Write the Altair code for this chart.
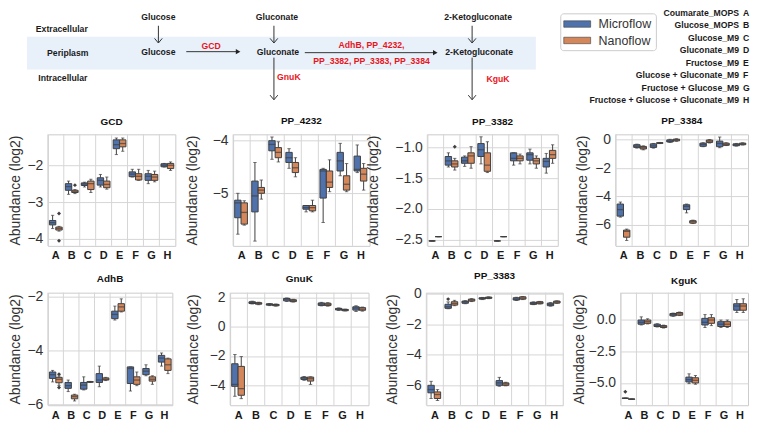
import altair as alt
import pandas as pd

# ---------------- data ----------------
CONDITIONS = ["A", "B", "C", "D", "E", "F", "G", "H"]
CONDITION_NAMES = [
    "Coumarate_MOPS", "Glucose_MOPS", "Glucose_M9", "Gluconate_M9", "Fructose_M9",
    "Glucose + Gluconate_M9", "Fructose + Glucose_M9", "Fructose + Glucose + Gluconate_M9",
]
GROUPS = ["Microflow", "Nanoflow"]

# box statistics per condition: [whisker low, q1, median, q3, whisker high]
GCD_MICRO = [[-3.72, -3.62, -3.56, -3.50, -3.36], [-2.79, -2.68, -2.58, -2.50, -2.43],
             [-2.59, -2.55, -2.51, -2.48, -2.46], [-2.59, -2.54, -2.41, -2.34, -2.25],
             [-1.71, -1.55, -1.44, -1.31, -1.26], [-2.32, -2.31, -2.24, -2.18, -2.11],
             [-2.50, -2.41, -2.30, -2.23, -2.14], [-2.05, -2.04, -2.00, -1.96, -1.95]]
GCD_NANO = [[-3.79, -3.76, -3.72, -3.68, -3.66], [-2.77, -2.74, -2.72, -2.68, -2.66],
            [-2.74, -2.66, -2.50, -2.43, -2.38], [-2.65, -2.61, -2.52, -2.43, -2.32],
            [-1.62, -1.50, -1.41, -1.31, -1.26], [-2.41, -2.40, -2.30, -2.23, -2.11],
            [-2.45, -2.41, -2.32, -2.25, -2.16], [-2.14, -2.09, -2.00, -1.95, -1.91]]
PP4232_MICRO = [[-5.77, -5.46, -5.18, -5.13, -5.00], [-5.90, -5.35, -5.05, -4.77, -4.42],
                [-4.36, -4.20, -4.08, -4.01, -3.94], [-4.53, -4.42, -4.33, -4.23, -4.16],
                [-5.35, -5.30, -5.27, -5.23, -5.23], [-5.55, -5.09, -4.58, -4.55, -4.53],
                [-4.67, -4.58, -4.39, -4.23, -4.06], [-4.61, -4.58, -4.55, -4.30, -4.09]]
PP4232_NANO = [[-5.60, -5.58, -5.36, -5.18, -5.14], [-5.11, -5.00, -4.94, -4.89, -4.75],
               [-4.41, -4.33, -4.23, -4.14, -4.03], [-4.69, -4.61, -4.52, -4.42, -4.33],
               [-5.35, -5.33, -5.27, -5.23, -5.13], [-4.97, -4.89, -4.79, -4.58, -4.37],
               [-4.97, -4.94, -4.83, -4.67, -4.44], [-4.94, -4.77, -4.64, -4.53, -4.44]]
PP3382_MICRO = [[-2.52, -2.52, -2.52, -2.52, -2.52], [-1.32, -1.29, -1.22, -1.15, -1.09],
                [-1.31, -1.26, -1.22, -1.16, -1.14], [-1.27, -1.15, -1.04, -0.94, -0.83],
                [-2.52, -2.52, -2.52, -2.52, -2.52], [-1.29, -1.22, -1.18, -1.09, -1.09],
                [-1.27, -1.21, -1.12, -1.09, -1.03], [-1.42, -1.32, -1.23, -1.18, -1.10]]
PP3382_NANO = [[-2.45, -2.45, -2.45, -2.45, -2.45], [-1.37, -1.32, -1.27, -1.22, -1.18],
               [-1.34, -1.26, -1.14, -1.09, -0.99], [-1.41, -1.39, -1.29, -1.09, -0.91],
               [-2.45, -2.45, -2.45, -2.45, -2.45], [-1.27, -1.22, -1.18, -1.14, -1.11],
               [-1.34, -1.27, -1.22, -1.18, -1.14], [-1.26, -1.18, -1.12, -1.05, -0.96]]
PP3384_MICRO = [[-5.45, -5.38, -4.92, -4.53, -4.39], [-0.60, -0.55, -0.46, -0.36, -0.32],
                [-0.60, -0.55, -0.44, -0.30, -0.27], [-0.20, -0.17, -0.11, -0.02, 0.02],
                [-5.15, -4.92, -4.69, -4.58, -4.53], [-0.50, -0.47, -0.34, -0.25, -0.22],
                [-0.57, -0.50, -0.27, -0.11, 0.18], [-0.46, -0.43, -0.37, -0.30, -0.27]]
PP3384_NANO = [[-7.09, -6.86, -6.45, -6.36, -6.29], [-0.72, -0.66, -0.57, -0.48, -0.44],
               [-0.28, -0.26, -0.24, -0.22, -0.20], [-0.12, -0.09, -0.02, 0.03, 0.06],
               [-5.90, -5.87, -5.77, -5.70, -5.66], [-0.24, -0.20, -0.11, -0.03, 0.00],
               [-0.42, -0.40, -0.34, -0.25, -0.22], [-0.38, -0.36, -0.30, -0.25, -0.23]]
ADHB_MICRO = [[-5.17, -5.04, -4.90, -4.80, -4.74], [-5.53, -5.41, -5.31, -5.19, -5.10],
              [-5.47, -5.44, -5.29, -5.19, -4.98], [-5.35, -5.19, -5.10, -4.86, -4.58],
              [-2.86, -2.81, -2.65, -2.53, -2.34], [-5.51, -5.23, -4.67, -4.61, -4.61],
              [-4.94, -4.90, -4.77, -4.67, -4.53], [-4.58, -4.43, -4.28, -4.18, -4.09]]
ADHB_NANO = [[-5.30, -5.20, -5.07, -5.00, -4.95], [-5.88, -5.80, -5.72, -5.66, -5.63],
             [-5.19, -5.18, -5.17, -5.16, -5.15], [-5.12, -5.10, -5.07, -5.02, -5.00],
             [-2.56, -2.53, -2.37, -2.25, -2.07], [-5.31, -5.26, -5.10, -4.98, -4.80],
             [-5.26, -5.14, -5.07, -4.98, -4.94], [-4.86, -4.74, -4.53, -4.31, -4.28]]
GNUK_MICRO = [[-4.75, -4.07, -3.94, -2.53, -1.90], [1.55, 1.58, 1.65, 1.70, 1.74],
              [1.44, 1.47, 1.52, 1.56, 1.58], [1.72, 1.76, 1.88, 1.93, 1.96],
              [-3.66, -3.60, -3.50, -3.45, -3.40], [1.42, 1.45, 1.54, 1.62, 1.66],
              [1.11, 1.14, 1.20, 1.25, 1.28], [1.04, 1.13, 1.27, 1.36, 1.43]]
GNUK_NANO = [[-4.91, -4.68, -4.23, -2.71, -2.04], [1.50, 1.54, 1.58, 1.64, 1.67],
             [1.40, 1.43, 1.48, 1.52, 1.55], [1.68, 1.71, 1.78, 1.84, 1.87],
             [-3.94, -3.71, -3.55, -3.44, -3.42], [1.40, 1.44, 1.52, 1.60, 1.64],
             [1.07, 1.09, 1.14, 1.18, 1.20], [1.06, 1.12, 1.20, 1.30, 1.34]]
PP3383_MICRO = [[-6.86, -6.49, -6.28, -6.00, -5.74], [-1.00, -0.97, -0.87, -0.71, -0.55],
                [-0.67, -0.64, -0.55, -0.50, -0.47], [-0.40, -0.37, -0.32, -0.28, -0.26],
                [-6.06, -6.00, -5.84, -5.69, -5.48], [-0.46, -0.43, -0.37, -0.28, -0.25],
                [-0.73, -0.71, -0.65, -0.58, -0.55], [-0.83, -0.80, -0.71, -0.63, -0.60]]
PP3383_NANO = [[-6.99, -6.86, -6.60, -6.43, -6.28], [-0.80, -0.76, -0.65, -0.54, -0.45],
               [-0.53, -0.50, -0.43, -0.37, -0.34], [-0.34, -0.32, -0.28, -0.24, -0.22],
               [-6.03, -6.00, -5.91, -5.84, -5.80], [-0.40, -0.37, -0.30, -0.22, -0.20],
               [-0.69, -0.67, -0.60, -0.54, -0.52], [-0.65, -0.63, -0.56, -0.50, -0.48]]
KGUK_MICRO = [[-6.22, -6.21, -6.20, -6.19, -6.18], [-0.44, -0.38, -0.23, -0.05, 0.20],
              [-0.60, -0.56, -0.49, -0.38, -0.34], [0.24, 0.28, 0.38, 0.46, 0.50],
              [-5.05, -4.92, -4.74, -4.54, -4.28], [-0.64, -0.44, -0.23, 0.08, 0.38],
              [-0.64, -0.56, -0.38, -0.18, -0.05], [0.54, 0.72, 1.05, 1.23, 1.56]]
KGUK_NANO = [[-6.29, -6.28, -6.27, -6.26, -6.25], [-0.36, -0.31, -0.18, -0.05, 0.05],
             [-0.68, -0.64, -0.56, -0.49, -0.45], [0.30, 0.33, 0.44, 0.54, 0.58],
             [-5.10, -5.00, -4.79, -4.59, -4.41], [-0.49, -0.31, -0.05, 0.13, 0.38],
             [-0.64, -0.56, -0.38, -0.18, -0.05], [0.54, 0.72, 1.05, 1.23, 1.62]]

# outliers
OUT_GENE = ["GCD", "GCD", "GCD", "PP_3382", "AdhB", "AdhB", "PP_3383", "KguK"]
OUT_COND = ["A", "A", "B", "B", "A", "A", "B", "A"]
OUT_GROUP = ["Nanoflow", "Nanoflow", "Nanoflow", "Nanoflow", "Nanoflow", "Nanoflow", "Microflow", "Microflow"]
OUT_VALUE = [-3.31, -4.05, -2.54, -0.99, -4.88, -5.38, -0.37, -5.69]

# ---------------- style ----------------
FONT = "Liberation Sans"
COLORS = ["#4f72ad", "#d4875a"]
EDGE = "#3f3f3f"
GRID = "#d6d6d6"
FRAME = "#cccccc"
RED = "#e8141c"

color_scale = alt.Scale(domain=GROUPS, range=COLORS)
outliers_df = pd.DataFrame({"gene": OUT_GENE, "cond": OUT_COND, "group": OUT_GROUP, "value": OUT_VALUE})


def panel(gene, micro, nano, domain, ticks, fmt, width, height, tpad, toffset):
    rows = []
    for i, c in enumerate(CONDITIONS):
        for g, s in zip(GROUPS, (micro[i], nano[i])):
            rows.append({"cond": c, "group": g, "lo": s[0], "q1": s[1],
                         "med": s[2], "q3": s[3], "hi": s[4]})
    df = pd.DataFrame(rows)
    boxw = width / len(CONDITIONS) / 2.5
    xs = alt.Scale(domain=CONDITIONS, paddingInner=0, paddingOuter=0)
    xo = alt.Scale(domain=GROUPS, paddingInner=0, paddingOuter=0.25)
    ys = alt.Scale(domain=domain, nice=False, zero=False, padding=0)
    xaxis = alt.Axis(title=None, labelAngle=0, labelFontWeight="bold", labelFontSize=11,
                     labelColor="#1a1a1a", ticks=False, tickSize=0, domain=False,
                     grid=False, labelPadding=4)
    yaxis = alt.Axis(title="Abundance (log2)", values=ticks, format=fmt, labelFontSize=14,
                     titleFontSize=14, titleFontWeight="normal", titleColor="#333333",
                     labelColor="#333333", ticks=False, tickSize=0, domain=False, grid=True,
                     gridColor=GRID, gridWidth=1, labelPadding=5, titlePadding=tpad)
    X = alt.X("cond:N", scale=xs, axis=xaxis)
    XO = alt.XOffset("group:N", scale=xo)

    def Y(f):
        return alt.Y(f, type="quantitative", scale=ys, axis=yaxis)

    base = alt.Chart(df).encode(x=X, xOffset=XO)
    vgrid = alt.Chart(pd.DataFrame({"cond": CONDITIONS})).mark_rule(
        color=GRID, strokeWidth=1).encode(
        x=alt.X("cond:N", scale=xs, axis=xaxis, bandPosition=0))
    wl = base.mark_rule(color=EDGE, strokeWidth=1).encode(y=Y("lo"), y2="q1:Q")
    wh = base.mark_rule(color=EDGE, strokeWidth=1).encode(y=Y("q3"), y2="hi:Q")
    box = base.mark_bar(stroke=EDGE, strokeWidth=1).encode(
        y=Y("q1"), y2="q3:Q",
        color=alt.Color("group:N", scale=color_scale, legend=None))
    med = base.mark_tick(color=EDGE, size=boxw, thickness=1.3).encode(y=Y("med"))
    cl = base.mark_tick(color=EDGE, size=boxw * 0.5, thickness=1).encode(y=Y("lo"))
    ch = base.mark_tick(color=EDGE, size=boxw * 0.5, thickness=1).encode(y=Y("hi"))
    layers = [vgrid, wl, wh, box, med, cl, ch]
    od = outliers_df[outliers_df["gene"] == gene]
    if len(od):
        layers.append(alt.Chart(od).mark_point(shape="diamond", filled=True, color=EDGE,
                                               size=16, opacity=1).encode(
            x=X, xOffset=XO, y=Y("value")))
    return alt.layer(*layers).properties(
        width=width, height=height,
        title=alt.TitleParams(gene, fontSize=10, fontWeight="bold", color="#111111",
                              offset=toffset, font=FONT))


# flush layout: only plot areas count, axis titles overflow into the gaps
row1 = alt.hconcat(
    panel("GCD", GCD_MICRO, GCD_NANO, [-4.19, -1.16], [-4, -3, -2], "d", 128, 112, 4, 7),
    panel("PP_4232", PP4232_MICRO, PP4232_NANO, [-5.99, -3.89], [-5, -4], "d", 137, 112, 13, 7),
    panel("PP_3382", PP3382_MICRO, PP3382_NANO, [-2.60, -0.79], [-2.5, -2.0, -1.5, -1.0], ".1f", 131, 112, 14, 7),
    panel("PP_3384", PP3384_MICRO, PP3384_NANO, [-7.47, 0.37], [-6, -4, -2, 0], "d", 133, 112, 5, 7),
    spacing=58, bounds="flush")
row2 = alt.hconcat(
    panel("AdhB", ADHB_MICRO, ADHB_NANO, [-6.04, -1.84], [-6, -4, -2], "d", 125, 113, 4, 6),
    panel("GnuK", GNUK_MICRO, GNUK_NANO, [-5.36, 2.32], [-4, -2, 0, 2], "d", 139, 113, 9, 6),
    panel("PP_3383", PP3383_MICRO, PP3383_NANO, [-7.3, 0.05], [-6, -4, -2, 0], "d", 137, 113, 6, 6),
    panel("KguK", KGUK_MICRO, KGUK_NANO, [-6.75, 2.1], [-5.0, -2.5, 0.0], ".1f", 128, 113, 2, 6),
    spacing=58, bounds="flush")
# nested flush concats count as zero height, so the spacing is the row pitch
rows = alt.vconcat(row1, row2, spacing=159, bounds="flush")

# ---------------- pathway diagram + legend (layout in page pixels) ----------------
# the diagram's plot origin sits at page x=47 (aligned with first panel), page y=8
TOP_W, TOP_H = 703, 79
xs_d = alt.Scale(domain=[47, 750], range=[0, TOP_W], nice=False, zero=False, padding=0)
ys_d = alt.Scale(domain=[8, 87], range=[0, TOP_H], nice=False, zero=False, padding=0)


def DX(f):
    return alt.X(f, type="quantitative", scale=xs_d, axis=None)


def DY(f):
    return alt.Y(f, type="quantitative", scale=ys_d, axis=None)


band_df = pd.DataFrame({"x": [26], "x2": [537], "y": [36], "y2": [69]})
black_txt = pd.DataFrame({
    "label": ["Extracellular", "Periplasm", "Intracellular", "Glucose", "Glucose",
              "Gluconate", "Gluconate", "2-Ketogluconate", "2-Ketogluconate"],
    "x": [61, 67, 62, 158, 158, 277, 278, 479, 480],
    "y": [28, 52, 77, 16, 51, 16, 51, 16, 51]})
red_txt = pd.DataFrame({
    "label": ["GCD", "AdhB, PP_4232,", "PP_3382, PP_3383, PP_3384", "GnuK", "KguK"],
    "x": [211, 372, 372, 289, 499],
    "y": [45, 44, 60, 76, 78]})
arrow_df = pd.DataFrame({
    "x": [158, 274, 473, 186, 305, 274, 473],
    "x2": [158, 274, 473, 237, 435, 274, 473],
    "y": [25, 25, 25, 51, 52, 57, 57],
    "y2": [42, 42, 42, 51, 52, 99, 99]})
down_heads = pd.DataFrame({"x": [158, 274, 473, 274, 473], "y": [40, 40, 40, 97, 97]})
right_heads = pd.DataFrame({"x": [238, 436], "y": [51, 52]})
legend_box = pd.DataFrame({"x": [562], "x2": [658], "y": [13], "y2": [50]})
legend_patch = pd.DataFrame({"group": GROUPS, "x": [565, 565], "x2": [592, 592],
                             "y": [20, 36.5], "y2": [26.5, 43]})
legend_txt = pd.DataFrame({"label": GROUPS, "x": [600, 600], "y": [23.5, 40]})
cond_txt = pd.DataFrame({"label": CONDITION_NAMES, "letter": CONDITIONS,
                         "xr": [741] * len(CONDITIONS), "xl": [745] * len(CONDITIONS),
                         "y": [12 + 12.5 * i for i in range(len(CONDITIONS))]})

chev = "M-1,-0.6L0,0.6L1,-0.6"
top = alt.layer(
    alt.Chart(band_df).mark_rect(color="#e8f0fa").encode(
        x=DX("x"), x2="x2:Q", y=DY("y"), y2="y2:Q"),
    alt.Chart(arrow_df).mark_rule(color="#333333", strokeWidth=1).encode(
        x=DX("x"), x2="x2:Q", y=DY("y"), y2="y2:Q"),
    alt.Chart(down_heads).mark_point(shape=chev, filled=False, color="#333333",
                                     strokeWidth=1, size=60, opacity=1).encode(
        x=DX("x"), y=DY("y")),
    alt.Chart(right_heads).mark_point(shape="triangle-right", filled=True, color="#222222",
                                      size=28, opacity=1).encode(x=DX("x"), y=DY("y")),
    alt.Chart(black_txt).mark_text(align="center", baseline="middle", fontSize=8.7,
                                   fontWeight="bold", color="#1a1a1a", font=FONT).encode(
        x=DX("x"), y=DY("y"), text="label:N"),
    alt.Chart(red_txt).mark_text(align="center", baseline="middle", fontSize=8.7,
                                 fontWeight="bold", color=RED, font=FONT).encode(
        x=DX("x"), y=DY("y"), text="label:N"),
    alt.Chart(legend_box).mark_rect(fill="white", stroke="#cccccc", strokeWidth=1,
                                    cornerRadius=3).encode(
        x=DX("x"), x2="x2:Q", y=DY("y"), y2="y2:Q"),
    alt.Chart(legend_patch).mark_rect(stroke=EDGE, strokeWidth=0.6).encode(
        x=DX("x"), x2="x2:Q", y=DY("y"), y2="y2:Q",
        color=alt.Color("group:N", scale=color_scale, legend=None)),
    alt.Chart(legend_txt).mark_text(align="left", baseline="middle", fontSize=12.5,
                                    color="#333333", font=FONT).encode(
        x=DX("x"), y=DY("y"), text="label:N"),
    alt.Chart(cond_txt).mark_text(align="right", baseline="middle", fontSize=8.7,
                                  fontWeight="bold", color="#1a1a1a", font=FONT).encode(
        x=DX("xr"), y=DY("y"), text="label:N"),
    alt.Chart(cond_txt).mark_text(align="left", baseline="middle", fontSize=8.7,
                                  fontWeight="bold", color="#1a1a1a", font=FONT).encode(
        x=DX("xl"), y=DY("y"), text="letter:N"),
).properties(width=TOP_W, height=TOP_H, view=alt.ViewBackground(strokeOpacity=0))

chart = alt.vconcat(top, rows, spacing=47, bounds="flush").properties(
    padding=0).configure(font=FONT).configure_view(stroke=FRAME, strokeWidth=1)

chart.save("out.html", embed_options={"renderer": "svg", "actions": False})
